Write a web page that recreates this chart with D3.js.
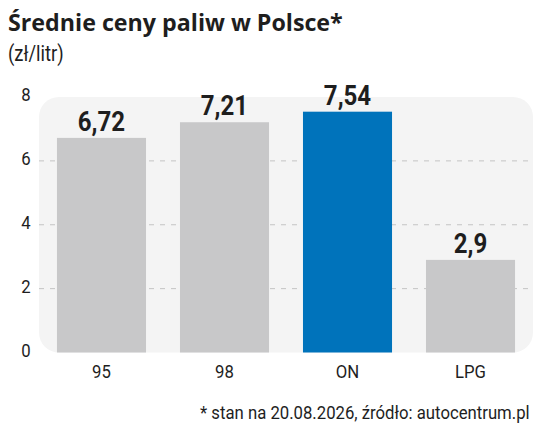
<!DOCTYPE html>
<html><head><meta charset="utf-8">
<script src="https://cdn.jsdelivr.net/npm/d3@7/dist/d3.min.js"></script>
<style>
html,body{margin:0;padding:0;background:#fff;}
svg{display:block;}
</style></head>
<body>
<svg id="c" width="536" height="428"></svg>
<script>
const categories = ["95", "98", "ON", "LPG"];
const values = [6.72, 7.21, 7.54, 2.9];
const valueLabels = ["6,72", "7,21", "7,54", "2,9"];
const yTicks = [0, 2, 4, 6, 8];
const highlight = "ON";

const title = "Średnie ceny paliw w Polsce*";
const subtitle = "(zł/litr)";
const footnote = "* stan na 20.08.2026, źródło: autocentrum.pl";

const svg = d3.select("#c");
const labelFont = "Roboto, 'Noto Sans', sans-serif";
const boldFont = "'Open Sans', 'Noto Sans', sans-serif";
const ink = "#1e1e1e";

const plot = {left: 39, right: 533, top: 97, bottom: 352.5};

const x = d3.scaleBand().domain(categories).range([plot.left, plot.right])
  .paddingInner(0.276).paddingOuter(0.146);
const y = d3.scaleLinear().domain([0, 8]).range([plot.bottom, plot.top]);

function condense(sel, k) {
  sel.each(function() {
    const t = d3.select(this);
    const tx = +t.attr("x") || 0, ty = +t.attr("y") || 0;
    t.attr("x", 0).attr("y", 0).attr("transform", `translate(${tx},${ty}) scale(${k},1)`);
  });
}
function fitWidth(sel, w) {
  const len = sel.node().getComputedTextLength();
  condense(sel, w / len);
}

// panel
svg.append("rect").attr("x", plot.left).attr("y", y(8))
  .attr("width", plot.right - plot.left).attr("height", y(0) - y(8))
  .attr("rx", 20).attr("ry", 20).attr("fill", "#f4f4f4");

// grid
svg.append("g").selectAll("line").data(yTicks.filter(d => d > 0 && d < 8)).join("line")
  .attr("x1", plot.left).attr("x2", plot.right)
  .attr("y1", d => y(d)).attr("y2", d => y(d))
  .attr("stroke", "#c4c4c4").attr("stroke-width", 1).attr("stroke-dasharray", "5,6");

// y axis
const yAxis = d3.axisLeft(y).tickValues(yTicks).tickSize(0).tickPadding(0);
const ya = svg.append("g").attr("transform", `translate(26,0)`).call(yAxis);
ya.select(".domain").remove();
ya.selectAll("text").attr("font-family", labelFont).attr("font-size", 19)
  .attr("fill", ink).attr("text-anchor", "middle").attr("dy", 0)
  .attr("y", -3).attr("dominant-baseline", "central");
condense(ya.selectAll("text"), 0.88);

// bars
svg.append("g").selectAll("rect").data(categories).join("rect")
  .attr("x", d => x(d)).attr("width", x.bandwidth())
  .attr("y", (d, i) => y(values[i])).attr("height", (d, i) => y(0) - y(values[i]))
  .attr("fill", d => d === highlight ? "#0073bb" : "#c8c8c9");

// value labels
const vl = svg.append("g").selectAll("text").data(categories).join("text")
  .attr("x", d => x(d) + x.bandwidth() / 2)
  .attr("y", (d, i) => y(values[i]) - 7)
  .attr("text-anchor", "middle").attr("font-family", labelFont).attr("font-weight", "bold")
  .attr("font-size", 28).attr("fill", ink)
  .text((d, i) => valueLabels[i]);
condense(vl, 0.86);

// x axis
const xAxis = d3.axisBottom(x).tickSize(0).tickPadding(0);
const xa = svg.append("g").attr("transform", `translate(0,${plot.bottom + 25.5})`).call(xAxis);
xa.select(".domain").remove();
xa.selectAll("text").attr("font-family", labelFont).attr("font-size", 19).attr("fill", ink).attr("dy", 0).attr("y", 0);
condense(xa.selectAll("text"), 0.88);

// titles
const tt = svg.append("text").attr("x", 8).attr("y", 31).attr("font-family", boldFont)
  .attr("font-weight", "bold").attr("font-size", 24).attr("fill", ink).text(title);
fitWidth(tt, 335);
const st = svg.append("text").attr("x", 8).attr("y", 61).attr("font-family", labelFont)
  .attr("font-size", 22).attr("fill", ink).text(subtitle);
condense(st, 0.84);
const ft = svg.append("text").attr("x", 200).attr("y", 419).attr("font-family", labelFont)
  .attr("font-size", 18).attr("fill", ink).text(footnote);
fitWidth(ft, 330);
</script>
</body></html>
